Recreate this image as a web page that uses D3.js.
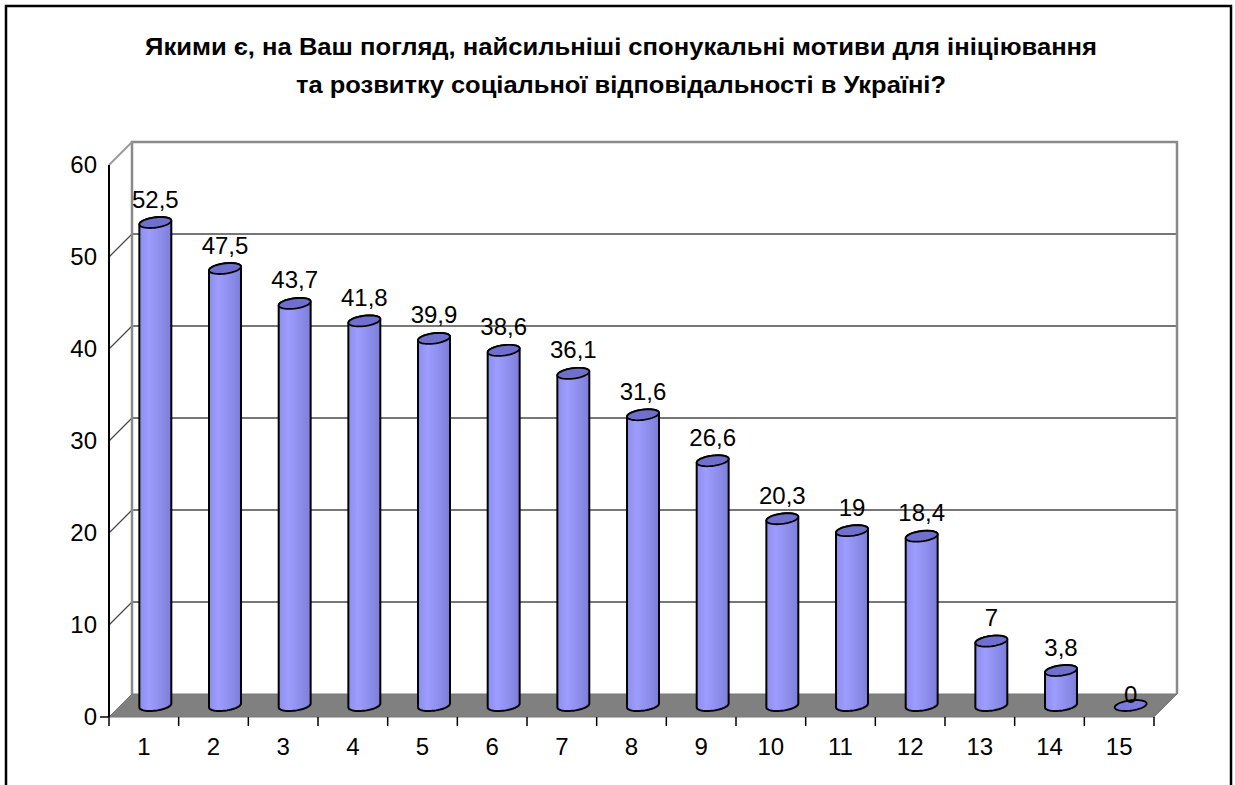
<!DOCTYPE html>
<html>
<head>
<meta charset="utf-8">
<script src="https://cdnjs.cloudflare.com/ajax/libs/d3/7.8.5/d3.min.js"></script>
<style>
  html, body { margin: 0; padding: 0; background: #fff; }
  svg { display: block; font-family: "Liberation Sans", Arial, sans-serif; }
</style>
</head>
<body>
<svg id="chart" width="1235" height="785"></svg>
<script>
const titleLines = [
  "Якими є, на Ваш погляд, найсильніші спонукальні мотиви для ініціювання",
  "та розвитку соціальної відповідальності в Україні?",
];
const categories = ["1", "2", "3", "4", "5", "6", "7", "8", "9", "10", "11", "12", "13", "14", "15"];
const values = [52.5, 47.5, 43.7, 41.8, 39.9, 38.6, 36.1, 31.6, 26.6, 20.3, 19, 18.4, 7, 3.8, 0];
const labels = ["52,5", "47,5", "43,7", "41,8", "39,9", "38,6", "36,1", "31,6", "26,6", "20,3", "19", "18,4", "7", "3,8", "0"];
const yTicks = [0, 10, 20, 30, 40, 50, 60];

const svg = d3.select("#chart");
const depth = 23; // oblique offset of the back wall
const plotLeft = 109, plotRight = 1154, plotBottom = 717, plotTop = 165;

const x = d3.scaleBand().domain(categories).range([plotLeft, plotRight]);
const y = d3.scaleLinear().domain([0, 60]).range([plotBottom, plotTop]);

// outer frame
svg.append("rect").attr("x", 6).attr("y", 6).attr("width", 1225).attr("height", 790)
  .attr("fill", "none").attr("stroke", "#000").attr("stroke-width", 2.5);

// title
svg.append("g").selectAll("text").data(titleLines).enter().append("text")
  .attr("x", 621).attr("y", (d, i) => 55 + i * 38)
  .attr("text-anchor", "middle").attr("font-weight", "bold").attr("font-size", 24)
  .attr("textLength", (d, i) => (i === 0 ? 952 : 650)).attr("lengthAdjust", "spacingAndGlyphs")
  .text((d) => d);

const defs = svg.append("defs");
const grad = defs.append("linearGradient").attr("id", "cyl").attr("x1", "0%").attr("x2", "100%");
grad.append("stop").attr("offset", "0%").attr("stop-color", "#8d8df0");
grad.append("stop").attr("offset", "30%").attr("stop-color", "#9d9dff");
grad.append("stop").attr("offset", "100%").attr("stop-color", "#7e7ed9");

// back wall
const backTop = y(60) - depth, backBottom = plotBottom - depth;

// gridlines on back wall and side wall
const grid = svg.append("g");
yTicks.filter((t) => t > 0 && t < 60).forEach((t) => {
  grid.append("line").attr("x1", plotLeft + depth).attr("x2", plotRight + depth)
    .attr("y1", y(t) - depth).attr("y2", y(t) - depth)
    .attr("stroke", "#4a4a4a").attr("stroke-width", 1.3);
  grid.append("line").attr("x1", plotLeft).attr("x2", plotLeft + depth)
    .attr("y1", y(t)).attr("y2", y(t) - depth)
    .attr("stroke", "#4a4a4a").attr("stroke-width", 1.3);
});

// wall borders
svg.append("path")
  .attr("d", `M${plotLeft + depth},${backBottom}V${backTop}H${plotRight + depth}V${backBottom}`)
  .attr("fill", "none").attr("stroke", "#8a8a8a").attr("stroke-width", 2.5);
svg.append("line").attr("x1", plotLeft).attr("y1", y(60)).attr("x2", plotLeft + depth).attr("y2", backTop)
  .attr("stroke", "#9a9a9a").attr("stroke-width", 2);

// floor
svg.append("path")
  .attr("d", `M${plotLeft},${plotBottom}L${plotRight},${plotBottom}L${plotRight + depth},${backBottom}L${plotLeft + depth},${backBottom}Z`)
  .attr("fill", "#808080").attr("stroke", "#777").attr("stroke-width", 1);

// front y axis line
svg.append("line").attr("x1", plotLeft).attr("x2", plotLeft).attr("y1", y(60)).attr("y2", plotBottom)
  .attr("stroke", "#000").attr("stroke-width", 2);
svg.append("line").attr("x1", plotLeft - 9).attr("x2", plotLeft).attr("y1", plotBottom).attr("y2", plotBottom)
  .attr("stroke", "#000").attr("stroke-width", 1.5);

// x ticks at band boundaries
svg.append("g").selectAll("line").data(d3.range(categories.length + 1)).enter().append("line")
  .attr("x1", (i) => plotLeft + i * x.bandwidth()).attr("x2", (i) => plotLeft + i * x.bandwidth())
  .attr("y1", plotBottom).attr("y2", plotBottom + 9)
  .attr("stroke", "#000").attr("stroke-width", 1.5);

// axis labels
const yAxis = svg.append("g").attr("transform", `translate(${plotLeft},0)`)
  .call(d3.axisLeft(y).tickValues(yTicks).tickSize(0).tickPadding(12));
yAxis.select(".domain").remove();
yAxis.selectAll("text").attr("font-size", 24).attr("font-family", "Liberation Sans, Arial, sans-serif").attr("fill", "#000");

const xAxis = svg.append("g").attr("transform", `translate(0,${plotBottom})`)
  .call(d3.axisBottom(x).tickSize(0).tickPadding(21));
xAxis.select(".domain").remove();
xAxis.selectAll("text").attr("font-size", 24).attr("font-family", "Liberation Sans, Arial, sans-serif").attr("fill", "#000");

// cylinders
const a = 15, b = 5.5;
const t0 = Math.atan2(b, a);
const pt = (cx, cy, t) => [cx + a * Math.cos(t) + b * Math.sin(t), cy - b * Math.sin(t)];
const arc = (cx, cy, from, to, n = 24) => d3.range(n + 1).map((k) => pt(cx, cy, from + (to - from) * k / n));

const bars = svg.append("g");
values.forEach((v, i) => {
  const cx = x(categories[i]) + x.bandwidth() / 2 + depth / 2;
  const yb = y(0) - depth / 2;
  const yt = y(v) - depth / 2;
  const front = arc(cx, yb, t0 + Math.PI, t0 + 2 * Math.PI);
  const back = arc(cx, yt, t0, t0 + Math.PI);
  const body = front.concat(back);
  if (v > 0) {
    bars.append("path").attr("d", d3.line()(body) + "Z")
      .attr("fill", "url(#cyl)").attr("stroke", "#000").attr("stroke-width", 2).attr("stroke-linejoin", "round");
  }
  const topE = arc(cx, yt, 0, 2 * Math.PI, 40);
  bars.append("path").attr("d", d3.line()(topE) + "Z")
    .attr("fill", v > 0 ? "#6f6fcc" : "#7b7bdc").attr("stroke", "#000").attr("stroke-width", 1.8);
  bars.append("text").attr("x", cx).attr("y", v > 0 ? yt - 15 : yt - 3)
    .attr("text-anchor", "middle").attr("font-size", 24).attr("fill", "#000")
    .text(labels[i]);
});
</script>
</body>
</html>
